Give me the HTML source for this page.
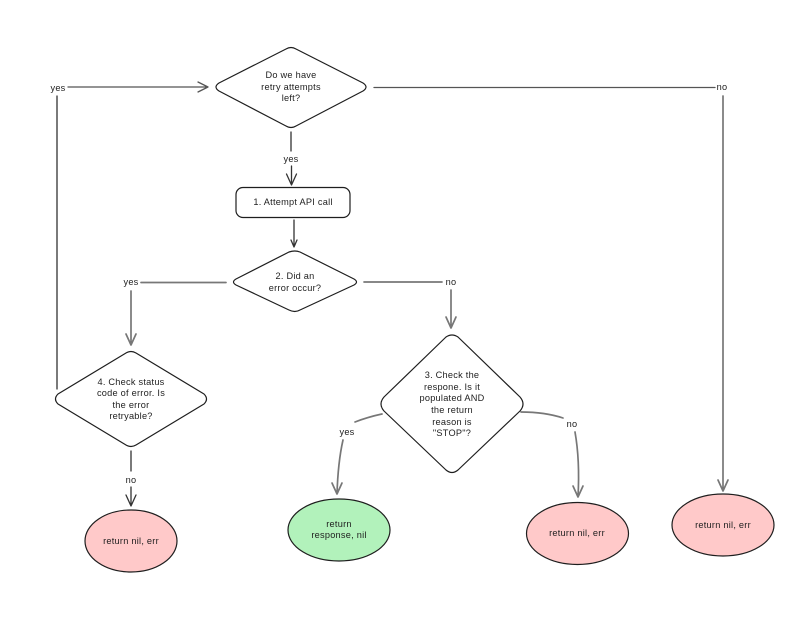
<!DOCTYPE html>
<html>
<head>
<meta charset="utf-8">
<style>
html,body{margin:0;padding:0;background:#fff;width:806px;height:632px;overflow:hidden}
svg{display:block}
text{font-family:"Liberation Sans",sans-serif;font-size:9.2px;fill:#1e1e1e;text-anchor:middle;letter-spacing:.25px}
.s{fill:#fff;stroke:#1e1e1e;stroke-width:1.2;stroke-linejoin:round}
.c{fill:none;stroke:#555;stroke-width:1.3;stroke-linecap:round;stroke-linejoin:round}
.g{fill:none;stroke:#777;stroke-width:1.7;stroke-linecap:round;stroke-linejoin:round}
.d{fill:none;stroke:#333;stroke-width:1.3;stroke-linecap:round;stroke-linejoin:round}
</style>
</head>
<body>
<svg width="806" height="632" viewBox="0 0 806 632" xmlns="http://www.w3.org/2000/svg">
<rect width="806" height="632" fill="#fff"/>

<!-- Connectors -->
<path class="d" d="M57 389V96"/>
<path class="c" d="M68 87H208M198 82L208 87L198 92"/>
<path class="c" d="M374 87.500H715"/>
<path class="g" d="M723 96V491M718 480L723 491L728 480"/>
<path class="d" d="M291 132V151"/>
<path class="d" d="M291.500 166V185M286.500 174L291.500 185L296.500 174"/>
<path class="d" d="M294 220V247M291 240L294 247L297 240"/>
<path class="g" d="M141 282.500H226"/>
<path class="g" d="M131 291V345M126 334L131 345L136 334"/>
<path class="g" d="M364 282H442"/>
<path class="g" d="M451 290V328M446 317L451 328L456 317"/>
<path class="d" d="M131 451V471"/>
<path class="d" d="M131 487V506M126 495L131 506L136 495"/>
<path class="g" d="M355 422Q368 417 382 414"/>
<path class="g" d="M343 440Q338 462 337 494M332 483L337 494L342 483"/>
<path class="g" d="M521 412Q545 412 563 418"/>
<path class="g" d="M575 432Q580 460 578 497M573 486L578 497L583 486"/>

<!-- Nodes -->
<path class="s" d="M286 49Q291 46 296 49L363 83Q369 87 363 91L296 126Q291 129 286 126L219 91Q213 87 219 83Z"/>
<rect class="s" x="236" y="187.500" width="114" height="30" rx="7"/>
<path class="s" d="M289 252Q295 250 300 252L354 279Q359 282 354 285L300 310Q295 313 289 310L236 285Q231 282 236 279Z"/>
<path class="s" d="M126 353Q131 350 136 353L204 394Q209 399 204 404L136 445Q131 448 126 445L58 404Q53 399 58 394Z"/>
<path class="s" d="M446 337Q452 333 458 337L520 397Q526 404 520 411L458 470Q452 475 446 470L384 411Q378 404 384 397Z"/>
<ellipse cx="131" cy="541" rx="46" ry="31" fill="#ffc9c9" stroke="#1e1e1e" stroke-width="1.2"/>
<ellipse cx="339" cy="530" rx="51" ry="31" fill="#b2f2bb" stroke="#1e1e1e" stroke-width="1.2"/>
<ellipse cx="577.500" cy="533.500" rx="51" ry="31" fill="#ffc9c9" stroke="#1e1e1e" stroke-width="1.2"/>
<ellipse cx="723" cy="525" rx="51" ry="31" fill="#ffc9c9" stroke="#1e1e1e" stroke-width="1.2"/>

<!-- Node labels -->
<text x="291" y="78">Do we have</text>
<text x="291" y="90">retry attempts</text>
<text x="291" y="101">left?</text>
<text x="293" y="205">1. Attempt API call</text>
<text x="295" y="279">2. Did an</text>
<text x="295" y="291">error occur?</text>
<text x="131" y="385">4. Check status</text>
<text x="131" y="396">code of error. Is</text>
<text x="131" y="408">the error</text>
<text x="131" y="419">retryable?</text>
<text x="452" y="378">3. Check the</text>
<text x="452" y="390">respone. Is it</text>
<text x="452" y="401">populated AND</text>
<text x="452" y="413">the return</text>
<text x="452" y="425">reason is</text>
<text x="452" y="436">"STOP"?</text>
<text x="131" y="544">return nil, err</text>
<text x="339" y="527">return</text>
<text x="339" y="538">response, nil</text>
<text x="577" y="536">return nil, err</text>
<text x="723" y="528">return nil, err</text>

<!-- Connector labels -->
<text x="58" y="91">yes</text>
<text x="722" y="90">no</text>
<text x="291" y="162">yes</text>
<text x="131" y="285">yes</text>
<text x="451" y="285">no</text>
<text x="131" y="483">no</text>
<text x="347" y="435">yes</text>
<text x="572" y="427">no</text>
</svg>
</body>
</html>
